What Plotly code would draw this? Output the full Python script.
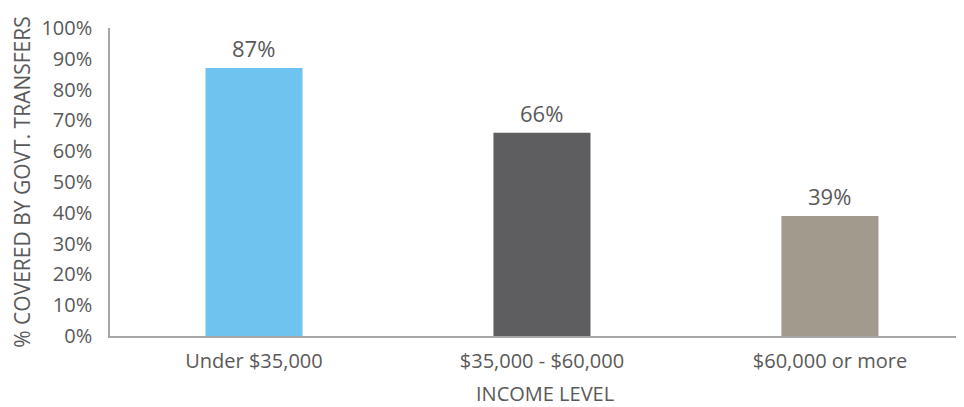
import plotly.graph_objects as go

categories = ["Under $35,000", "$35,000 - $60,000", "$60,000 or more"]
values = [87, 66, 39]
colors = ["#6EC4EE", "#5E5E60", "#A39A8E"]
y_ticks = list(range(0, 101, 10))
y_tick_labels = [f"{v}%" for v in y_ticks]

font_family = "Open Sans, Lato, sans-serif"
grey = "#595959"

x_pos = list(range(len(categories)))

fig = go.Figure(go.Bar(
    x=x_pos,
    y=values,
    marker=dict(color=colors, line=dict(width=0)),
    width=0.337,
    cliponaxis=False,
))

for xi, v in zip(x_pos, values):
    fig.add_annotation(
        x=xi, y=v, xref="x", yref="y",
        text=f"{v}%", showarrow=False,
        yanchor="bottom", yshift=3,
        font=dict(family=font_family, size=22, color=grey),
    )

fig.add_annotation(
    x=0.51, y=0, xref="paper", yref="paper",
    text="INCOME LEVEL", showarrow=False,
    yanchor="middle", yshift=-57, borderpad=0,
    font=dict(family=font_family, size=20, color=grey),
)

fig.update_layout(
    width=964, height=407,
    margin=dict(l=102, r=9, t=20, b=79, autoexpand=False),
    paper_bgcolor="white", plot_bgcolor="white",
    showlegend=False,
    font=dict(family=font_family, color=grey),
    xaxis=dict(
        range=[-0.5, 2.462],
        tickmode="array",
        tickvals=x_pos,
        ticktext=categories,
        tickfont=dict(size=20, color=grey),
        showline=True, linecolor="#A6A6A6", linewidth=1.5,
        showgrid=False, ticks="", zeroline=False,
        ticklabelstandoff=6,
        automargin=False,
    ),
    yaxis=dict(
        range=[0, 100],
        tickmode="array",
        tickvals=y_ticks,
        ticktext=y_tick_labels,
        tickfont=dict(size=20, color=grey),
        showline=True, linecolor="#A6A6A6", linewidth=1.5,
        showgrid=False, ticks="", zeroline=False,
        ticklabelstandoff=12,
        title=dict(text="% COVERED BY GOVT. TRANSFERS", font=dict(size=21, color=grey), standoff=12),
        automargin=False,
    ),
)

fig.write_html("out.html")
